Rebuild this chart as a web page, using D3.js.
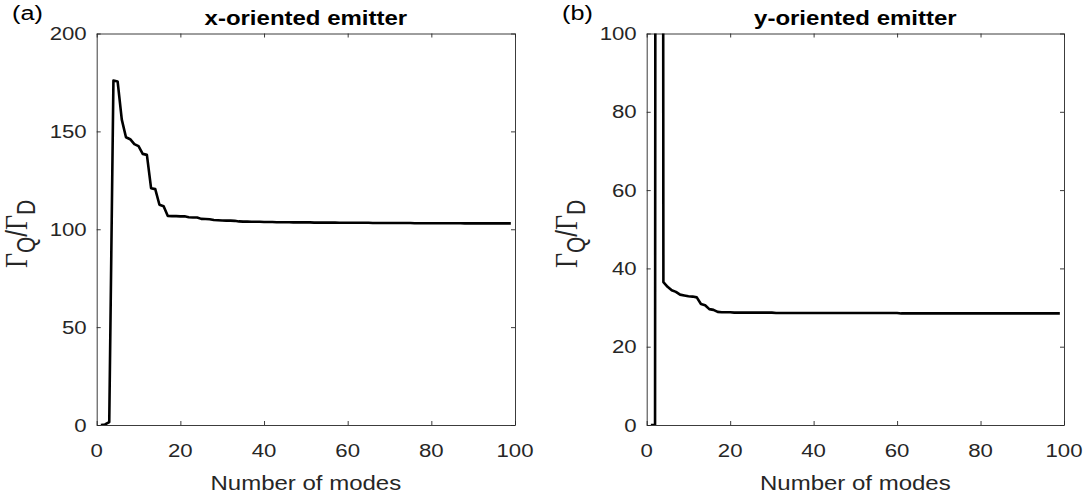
<!DOCTYPE html>
<html><head><meta charset="utf-8">
<script src="https://cdn.jsdelivr.net/npm/d3@7"></script>
<style>body{margin:0;background:#fff}svg{display:block}</style>
</head><body>
<svg id="c" width="1086" height="501"></svg>
<script>
// ---- data ----
const modes = d3.range(1, 100); // 1..99
const xOriented = [
  0, 0.3, 1.5, 176, 175.5, 156, 147, 146, 143.5, 142.5,
  138.5, 138, 121, 120.5, 112.5, 111.8, 106.8, 106.7, 106.7, 106.6,
  106.6, 106.1, 106.0, 106.0, 105.3, 105.2, 105.1, 104.7, 104.6, 104.5,
  104.4, 104.4, 104.3, 104.0, 103.9, 103.9, 103.8, 103.8, 103.8, 103.7,
  103.7, 103.7, 103.6, 103.6, 103.6, 103.6, 103.5, 103.5, 103.5, 103.5,
  103.5, 103.4, 103.4, 103.4, 103.4, 103.4, 103.4, 103.3, 103.3, 103.3,
  103.3, 103.3, 103.3, 103.3, 103.3, 103.2, 103.2, 103.2, 103.2, 103.2,
  103.2, 103.2, 103.2, 103.2, 103.2, 103.1, 103.1, 103.1, 103.1, 103.1,
  103.1, 103.1, 103.1, 103.1, 103.1, 103.1, 103.1, 103.0, 103.0, 103.0,
  103.0, 103.0, 103.0, 103.0, 103.0, 103.0, 103.0, 103.0, 103.0
];
const yOriented = [
  0, 0, 1500, 36.5, 35.3, 34.4, 34.0, 33.3, 33.1, 32.9,
  32.8, 32.6, 30.9, 30.6, 29.6, 29.4, 28.9, 28.8, 28.8, 28.8,
  28.7, 28.7, 28.7, 28.7, 28.7, 28.7, 28.7, 28.7, 28.7, 28.7,
  28.6, 28.6, 28.6, 28.6, 28.6, 28.6, 28.6, 28.6, 28.6, 28.6,
  28.6, 28.6, 28.6, 28.6, 28.6, 28.6, 28.6, 28.6, 28.6, 28.6,
  28.6, 28.6, 28.6, 28.6, 28.6, 28.6, 28.6, 28.6, 28.6, 28.6,
  28.5, 28.5, 28.5, 28.5, 28.5, 28.5, 28.5, 28.5, 28.5, 28.5,
  28.5, 28.5, 28.5, 28.5, 28.5, 28.5, 28.5, 28.5, 28.5, 28.5,
  28.5, 28.5, 28.5, 28.5, 28.5, 28.5, 28.5, 28.5, 28.5, 28.5,
  28.5, 28.5, 28.5, 28.5, 28.5, 28.5, 28.5, 28.5, 28.5
];
const xTicks = [0, 20, 40, 60, 80, 100];
const yTicksA = [0, 50, 100, 150, 200];
const yTicksB = [0, 20, 40, 60, 80, 100];
const titles = ["x-oriented emitter", "y-oriented emitter"];
const panelTags = ["(a)", "(b)"];
const xLabel = "Number of modes";

// ---- drawing ----
const svg = d3.select("#c");
const SX = 1.2;
const axisCol = "#262626";
const sans = "'Liberation Sans', Arial, Helvetica, sans-serif";
const serif = "'Liberation Serif', 'Times New Roman', serif";

function txt(g, x, y, s, opts) {
  opts = opts || {};
  return g.append("text")
    .attr("transform", `translate(${x},${y}) scale(${SX},1)`)
    .attr("font-family", opts.family || sans)
    .attr("font-size", opts.size || 18)
    .attr("font-weight", opts.weight || "normal")
    .attr("fill", opts.fill || axisCol)
    .attr("text-anchor", opts.anchor || "middle")
    .text(s);
}

const panels = [
  {left: 96.7, right: 515, top: 33.5, bottom: 425, ymax: 200, data: xOriented, yt: yTicksA, title: titles[0], tag: panelTags[0], tagX: 12, labX: 27},
  {left: 646.7, right: 1064, top: 33.5, bottom: 425, ymax: 100, data: yOriented, yt: yTicksB, title: titles[1], tag: panelTags[1], tagX: 562, labX: 577}
];

panels.forEach((p, i) => {
  const x = d3.scaleLinear().domain([0, 100]).range([p.left, p.right]);
  const y = d3.scaleLinear().domain([0, p.ymax]).range([p.bottom, p.top]);
  const g = svg.append("g");

  const clipId = "clip" + i;
  svg.append("clipPath").attr("id", clipId).append("rect")
    .attr("x", p.left).attr("y", p.top).attr("width", p.right - p.left).attr("height", p.bottom - p.top);

  // axes (box with inward ticks on all sides)
  const tl = 4;
  const axB = d3.axisBottom(x).tickValues(xTicks).tickSizeInner(-tl).tickSizeOuter(0).tickFormat("");
  const axT = d3.axisTop(x).tickValues(xTicks).tickSizeInner(-tl).tickSizeOuter(0).tickFormat("");
  const axL = d3.axisLeft(y).tickValues(p.yt).tickSizeInner(-tl).tickSizeOuter(0).tickFormat("");
  const axR = d3.axisRight(y).tickValues(p.yt).tickSizeInner(-tl).tickSizeOuter(0).tickFormat("");
  [[axB, `translate(0,${p.bottom})`], [axT, `translate(0,${p.top})`], [axL, `translate(${p.left},0)`], [axR, `translate(${p.right},0)`]]
    .forEach(([ax, tr]) => {
      const a = g.append("g").attr("transform", tr).call(ax);
      a.selectAll("path,line").attr("stroke", axisCol).attr("stroke-width", 0.9);
    });

  // tick labels
  xTicks.forEach(v => txt(g, x(v), p.bottom + 32, String(v), {size: 18.5}));
  p.yt.forEach(v => txt(g, p.left - 10, y(v) + 6.5, String(v), {anchor: "end", size: 18.5}));

  // line
  const line = d3.line().x((d, j) => x(modes[j])).y(d => y(d));
  g.append("path").datum(p.data)
    .attr("clip-path", `url(#${clipId})`)
    .attr("fill", "none").attr("stroke", "#000").attr("stroke-width", 2.6)
    .attr("stroke-linejoin", "round")
    .attr("d", line);

  // title, x label, tag
  txt(g, (p.left + p.right) / 2, 25, p.title, {size: 20, weight: "bold", fill: "#000"});
  txt(g, (p.left + p.right) / 2, 490, xLabel, {size: 20});
  txt(g, p.tagX, 20, p.tag, {size: 21, anchor: "start", fill: "#000"});

  // y label: Γ_Q / Γ_D
  const cy = 234;
  const yl = g.append("text")
    .attr("transform", `translate(${p.labX},${cy}) rotate(-90) scale(1,${SX})`)
    .attr("text-anchor", "middle").attr("font-size", 24).attr("fill", axisCol)
    .attr("font-family", sans);
  yl.append("tspan").attr("font-family", serif).attr("font-size", 26).text("Γ");
  yl.append("tspan").attr("dy", 7).attr("font-size", 21).text("Q");
  yl.append("tspan").attr("dy", -7).text("/");
  yl.append("tspan").attr("font-family", serif).attr("font-size", 26).text("Γ");
  yl.append("tspan").attr("dy", 7).attr("font-size", 21).text("D");
});
</script>
</body></html>
